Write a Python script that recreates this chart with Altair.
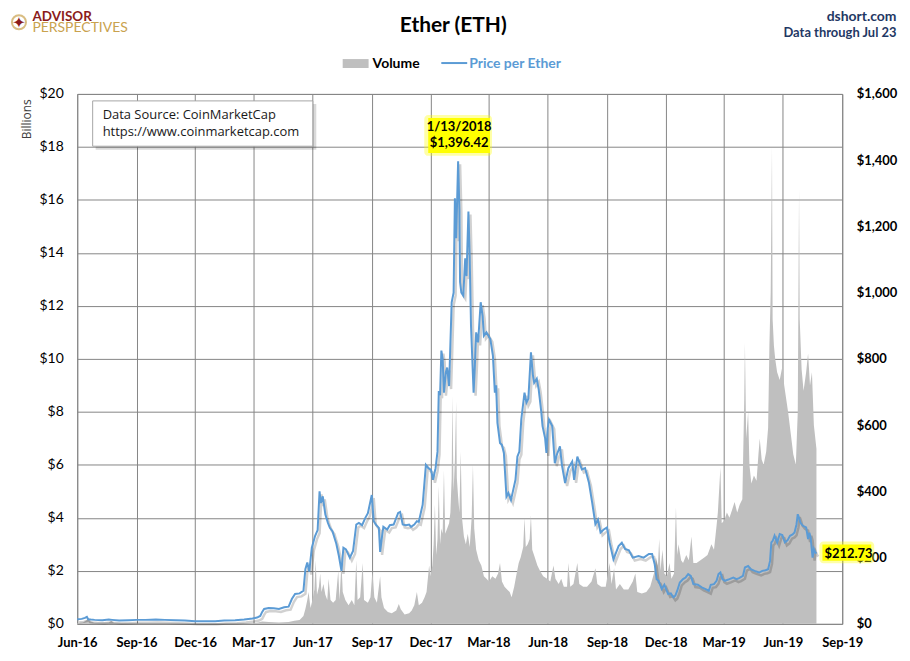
import altair as alt
import pandas as pd

# ---------------- data ----------------
price_dates = [
    "2016-06-01", "2016-06-08", "2016-06-13", "2016-06-16", "2016-06-18", "2016-06-22", "2016-06-28",
    "2016-07-10", "2016-07-20", "2016-07-25", "2016-08-05", "2016-08-20", "2016-09-01", "2016-09-15",
    "2016-10-01", "2016-10-15", "2016-11-01", "2016-11-15", "2016-12-01", "2016-12-15", "2017-01-01",
    "2017-01-15", "2017-02-01", "2017-02-15", "2017-02-28", "2017-03-07", "2017-03-12", "2017-03-15",
    "2017-03-18", "2017-03-25", "2017-04-02", "2017-04-10", "2017-04-18", "2017-04-25", "2017-04-30",
    "2017-05-05", "2017-05-12", "2017-05-18", "2017-05-21", "2017-05-24", "2017-05-27", "2017-05-31",
    "2017-06-05", "2017-06-09", "2017-06-12", "2017-06-14", "2017-06-17", "2017-06-21", "2017-06-25",
    "2017-06-28", "2017-07-02", "2017-07-08", "2017-07-12", "2017-07-16", "2017-07-19", "2017-07-23",
    "2017-07-29", "2017-08-03", "2017-08-08", "2017-08-12", "2017-08-17", "2017-08-22", "2017-08-26",
    "2017-09-01", "2017-09-04", "2017-09-08", "2017-09-12", "2017-09-14", "2017-09-16", "2017-09-19",
    "2017-09-25", "2017-09-29", "2017-10-05", "2017-10-12", "2017-10-15", "2017-10-19", "2017-10-24",
    "2017-10-29", "2017-11-01", "2017-11-06", "2017-11-10", "2017-11-13", "2017-11-19", "2017-11-24",
    "2017-11-28", "2017-12-02", "2017-12-05", "2017-12-09", "2017-12-12", "2017-12-14", "2017-12-16",
    "2017-12-18", "2017-12-20", "2017-12-22", "2017-12-25", "2017-12-27", "2017-12-30", "2018-01-03",
    "2018-01-06", "2018-01-08", "2018-01-10", "2018-01-13", "2018-01-15", "2018-01-16", "2018-01-18",
    "2018-01-21", "2018-01-24", "2018-01-26", "2018-01-29", "2018-01-31", "2018-02-02", "2018-02-06",
    "2018-02-08", "2018-02-10", "2018-02-13", "2018-02-17", "2018-02-20", "2018-02-22", "2018-02-26",
    "2018-03-01", "2018-03-04", "2018-03-08", "2018-03-11", "2018-03-13", "2018-03-15", "2018-03-19",
    "2018-03-22", "2018-03-25", "2018-03-29", "2018-04-01", "2018-04-05", "2018-04-08", "2018-04-12",
    "2018-04-15", "2018-04-18", "2018-04-21", "2018-04-26", "2018-04-29", "2018-05-02", "2018-05-06",
    "2018-05-09", "2018-05-11", "2018-05-15", "2018-05-18", "2018-05-22", "2018-05-24", "2018-05-28",
    "2018-05-30", "2018-06-01", "2018-06-03", "2018-06-08", "2018-06-12", "2018-06-15", "2018-06-20",
    "2018-06-23", "2018-06-28", "2018-07-03", "2018-07-09", "2018-07-12", "2018-07-17", "2018-07-24",
    "2018-07-29", "2018-08-04", "2018-08-09", "2018-08-14", "2018-08-18", "2018-08-22", "2018-08-27",
    "2018-09-01", "2018-09-05", "2018-09-11", "2018-09-14", "2018-09-19", "2018-09-24", "2018-09-29",
    "2018-10-05", "2018-10-11", "2018-10-20", "2018-10-28", "2018-11-05", "2018-11-10", "2018-11-14",
    "2018-11-17", "2018-11-20", "2018-11-25", "2018-11-29", "2018-12-05", "2018-12-09", "2018-12-13",
    "2018-12-16", "2018-12-19", "2018-12-23", "2018-12-28", "2019-01-01", "2019-01-05", "2019-01-09",
    "2019-01-13", "2019-01-20", "2019-01-26", "2019-02-01", "2019-02-06", "2019-02-09", "2019-02-14",
    "2019-02-18", "2019-02-21", "2019-02-24", "2019-02-27", "2019-03-03", "2019-03-10", "2019-03-16",
    "2019-03-21", "2019-03-25", "2019-03-31", "2019-04-03", "2019-04-08", "2019-04-12", "2019-04-18",
    "2019-04-25", "2019-04-30", "2019-05-05", "2019-05-09", "2019-05-12", "2019-05-14", "2019-05-16",
    "2019-05-19", "2019-05-23", "2019-05-27", "2019-05-31", "2019-06-04", "2019-06-08", "2019-06-12",
    "2019-06-16", "2019-06-19", "2019-06-22", "2019-06-24", "2019-06-26", "2019-06-28", "2019-07-02",
    "2019-07-07", "2019-07-10", "2019-07-12", "2019-07-14", "2019-07-17", "2019-07-19", "2019-07-21",
    "2019-07-23",
]
price_values = [
    14, 15, 18, 21, 14, 13, 12,
    11, 13, 12, 10, 11, 12, 12,
    13, 12, 11, 10, 8, 8, 8,
    10, 11, 13, 16, 19, 24, 36,
    45, 48, 47, 45, 50, 52, 75,
    90, 92, 100, 165, 185, 158, 230,
    265, 283, 400, 365, 385, 330, 305,
    290, 280, 242, 205, 160, 230, 225,
    200, 220, 300, 305, 298, 320, 334,
    389, 310, 298, 290, 217, 250, 293,
    285, 298, 300, 335, 338, 300, 298,
    300, 293, 300, 310, 308, 360, 480,
    470, 465, 435, 470, 520, 703, 690,
    825, 800, 698, 760, 774, 718, 971,
    1000, 1285, 1164, 1396.42, 1250, 1032, 1000,
    991, 1104, 1050, 1245, 1104, 900, 698,
    780, 880, 850, 971, 930, 870, 880,
    870, 860, 809, 698, 720, 607, 546,
    540, 516, 384, 395, 374, 400, 435,
    505, 520, 617, 698, 668, 680, 820,
    752, 728, 740, 708, 640, 597, 560,
    516, 590, 617, 597, 485, 510, 536,
    480, 425, 470, 490, 435, 505, 466,
    470, 426, 366, 301, 315, 276, 285,
    291, 246, 195, 210, 235, 245, 226,
    222, 200, 205, 200, 211, 211, 180,
    135, 130, 105, 118, 90, 92, 80,
    85, 100, 125, 135, 140, 150, 145,
    120, 118, 110, 105, 100, 118, 120,
    130, 150, 155, 135, 130, 135, 140,
    135, 138, 145, 170, 175, 165, 160,
    155, 160, 162, 165, 190, 246, 250,
    266, 245, 271, 268, 246, 252, 266,
    270, 276, 300, 331, 320, 306, 296,
    291, 256, 275, 260, 200, 226, 216,
    212.73,
]

volume_dates = [
    "2016-06-01", "2016-06-10", "2016-06-16", "2016-06-18", "2016-06-21", "2016-06-28", "2016-07-20",
    "2016-07-24", "2016-07-28", "2016-08-20", "2016-09-15", "2016-10-20", "2016-11-20", "2016-12-20",
    "2017-01-20", "2017-02-20", "2017-03-05", "2017-03-15", "2017-03-25", "2017-04-10", "2017-04-25",
    "2017-05-04", "2017-05-12", "2017-05-18", "2017-05-21", "2017-05-24", "2017-05-26", "2017-05-29",
    "2017-06-01", "2017-06-04", "2017-06-06", "2017-06-08", "2017-06-11", "2017-06-13", "2017-06-15",
    "2017-06-18", "2017-06-21", "2017-06-24", "2017-06-26", "2017-06-29", "2017-07-03", "2017-07-07",
    "2017-07-11", "2017-07-13", "2017-07-16", "2017-07-18", "2017-07-22", "2017-07-27", "2017-08-01",
    "2017-08-05", "2017-08-08", "2017-08-10", "2017-08-14", "2017-08-18", "2017-08-20", "2017-08-26",
    "2017-08-30", "2017-09-02", "2017-09-05", "2017-09-09", "2017-09-14", "2017-09-16", "2017-09-20",
    "2017-09-26", "2017-10-02", "2017-10-09", "2017-10-13", "2017-10-16", "2017-10-22", "2017-10-29",
    "2017-11-02", "2017-11-06", "2017-11-10", "2017-11-13", "2017-11-18", "2017-11-22", "2017-11-25",
    "2017-11-29", "2017-12-01", "2017-12-04", "2017-12-06", "2017-12-08", "2017-12-10", "2017-12-12",
    "2017-12-14", "2017-12-16", "2017-12-18", "2017-12-20", "2017-12-22", "2017-12-24", "2017-12-27",
    "2017-12-30", "2018-01-01", "2018-01-03", "2018-01-04", "2018-01-06", "2018-01-08", "2018-01-10",
    "2018-01-11", "2018-01-13", "2018-01-15", "2018-01-17", "2018-01-19", "2018-01-22", "2018-01-25",
    "2018-01-28", "2018-01-31", "2018-02-03", "2018-02-05", "2018-02-07", "2018-02-10", "2018-02-14",
    "2018-02-18", "2018-02-22", "2018-02-26", "2018-03-02", "2018-03-07", "2018-03-12", "2018-03-16",
    "2018-03-19", "2018-03-22", "2018-03-26", "2018-03-30", "2018-04-03", "2018-04-06", "2018-04-10",
    "2018-04-13", "2018-04-17", "2018-04-20", "2018-04-24", "2018-04-26", "2018-04-28", "2018-05-01",
    "2018-05-04", "2018-05-06", "2018-05-08", "2018-05-12", "2018-05-16", "2018-05-20", "2018-05-25",
    "2018-05-31", "2018-06-05", "2018-06-10", "2018-06-13", "2018-06-18", "2018-06-22", "2018-06-26",
    "2018-07-01", "2018-07-03", "2018-07-06", "2018-07-11", "2018-07-17", "2018-07-20", "2018-07-26",
    "2018-08-01", "2018-08-08", "2018-08-14", "2018-08-17", "2018-08-23", "2018-08-30", "2018-09-05",
    "2018-09-08", "2018-09-12", "2018-09-15", "2018-09-21", "2018-09-27", "2018-10-04", "2018-10-11",
    "2018-10-15", "2018-10-18", "2018-10-25", "2018-11-01", "2018-11-07", "2018-11-14", "2018-11-16",
    "2018-11-19", "2018-11-21", "2018-11-23", "2018-11-26", "2018-11-29", "2018-12-03", "2018-12-07",
    "2018-12-10", "2018-12-14", "2018-12-17", "2018-12-19", "2018-12-21", "2018-12-25", "2018-12-28",
    "2019-01-02", "2019-01-06", "2019-01-10", "2019-01-13", "2019-01-18", "2019-01-24", "2019-01-30",
    "2019-02-04", "2019-02-10", "2019-02-14", "2019-02-18", "2019-02-20", "2019-02-24", "2019-02-26",
    "2019-03-02", "2019-03-06", "2019-03-10", "2019-03-14", "2019-03-18", "2019-03-22", "2019-03-26",
    "2019-03-30", "2019-04-02", "2019-04-03", "2019-04-05", "2019-04-08", "2019-04-10", "2019-04-13",
    "2019-04-17", "2019-04-21", "2019-04-24", "2019-04-26", "2019-04-29", "2019-05-02", "2019-05-06",
    "2019-05-09", "2019-05-11", "2019-05-13", "2019-05-15", "2019-05-16", "2019-05-18", "2019-05-20",
    "2019-05-23", "2019-05-27", "2019-05-31", "2019-06-03", "2019-06-06", "2019-06-09", "2019-06-13",
    "2019-06-17", "2019-06-21", "2019-06-24", "2019-06-26", "2019-06-27", "2019-06-30", "2019-07-03",
    "2019-07-07", "2019-07-10", "2019-07-13", "2019-07-16", "2019-07-19", "2019-07-23",
]
volume_values = [
    0.03, 0.05, 0.15, 0.22, 0.10, 0.04, 0.05,
    0.12, 0.04, 0.03, 0.02, 0.02, 0.01, 0.01,
    0.02, 0.02, 0.03, 0.09, 0.07, 0.05, 0.07,
    0.12, 0.15, 0.30, 0.56, 0.90, 1.20, 0.60,
    0.90, 1.30, 2.40, 1.10, 1.40, 1.90, 1.20,
    1.50, 1.10, 0.90, 1.70, 0.90, 0.80, 0.90,
    2.00, 0.90, 2.30, 1.20, 0.90, 0.70, 0.90,
    0.70, 2.40, 0.90, 1.00, 2.30, 0.90, 0.80,
    1.00, 2.00, 1.00, 0.80, 1.80, 1.00, 0.60,
    0.45, 0.40, 0.50, 0.75, 0.55, 0.35, 0.40,
    0.50, 0.70, 1.20, 0.70, 0.80, 1.00, 1.20,
    2.20, 1.80, 2.20, 3.00, 4.50, 2.60, 3.20,
    5.20, 3.00, 3.60, 3.40, 5.80, 3.40, 3.60,
    3.80, 4.20, 5.50, 8.60, 5.00, 6.20, 8.40,
    5.50, 4.80, 4.20, 6.50, 4.00, 3.30, 3.00,
    3.40, 2.90, 4.00, 6.00, 3.60, 2.80, 2.40,
    2.20, 1.80, 1.70, 1.60, 1.80, 1.70, 1.90,
    2.30, 1.60, 1.40, 1.30, 1.20, 1.00, 1.40,
    1.80, 2.30, 2.50, 2.90, 4.00, 2.90, 3.00,
    3.20, 4.10, 2.80, 2.50, 2.20, 2.00, 1.80,
    1.70, 1.60, 2.20, 1.70, 1.50, 1.70, 1.40,
    1.40, 2.30, 1.40, 1.50, 2.30, 1.50, 1.40,
    1.40, 1.60, 2.10, 1.50, 1.40, 1.40, 2.30,
    1.50, 2.10, 1.30, 1.50, 1.30, 1.30, 1.60,
    1.90, 1.20, 1.15, 1.20, 1.40, 2.00, 2.50,
    2.20, 3.20, 2.00, 2.80, 1.90, 1.80, 2.30,
    1.70, 1.90, 4.40, 2.60, 3.00, 2.40, 2.30,
    2.60, 2.40, 3.30, 2.30, 2.30, 2.40, 2.50,
    2.60, 3.00, 2.80, 3.70, 4.20, 5.90, 3.80,
    3.90, 4.20, 4.00, 4.30, 4.60, 4.20, 4.50,
    4.70, 8.50, 10.60, 7.00, 8.00, 6.00, 5.30,
    5.60, 5.40, 6.40, 7.00, 6.20, 6.00, 6.50,
    7.40, 10.50, 12.50, 18.00, 11.50, 10.50, 10.00,
    9.50, 9.20, 9.70, 9.00, 8.50, 8.00, 7.20,
    6.40, 6.00, 8.00, 16.40, 11.50, 9.60, 8.80,
    9.50, 10.20, 9.00, 9.50, 7.50, 6.60,
]

quarter_ticks = [(2016, 6), (2016, 9), (2016, 12), (2017, 3), (2017, 6), (2017, 9), (2017, 12),
                 (2018, 3), (2018, 6), (2018, 9), (2018, 12), (2019, 3), (2019, 6), (2019, 9)]
volume_ticks = [0, 2, 4, 6, 8, 10, 12, 14, 16, 18, 20]
price_ticks = [0, 200, 400, 600, 800, 1000, 1200, 1400, 1600]

# ---------------- frames ----------------
price_df = pd.DataFrame({"date": pd.to_datetime(price_dates), "price": price_values})
vol_df = pd.DataFrame({"date": pd.to_datetime(volume_dates), "volume": volume_values})

peak = price_df.loc[price_df["price"].idxmax()]
last = price_df.iloc[-1]
peak_df = pd.DataFrame({
    "date": [peak["date"]], "price": [peak["price"]],
    "l1": [f"{peak['date'].month}/{peak['date'].day}/{peak['date'].year}"],
    "l2": [f"${peak['price']:,.2f}"],
})
last_df = pd.DataFrame({"date": [last["date"]], "price": [last["price"]],
                        "l": [f"${last['price']:,.2f}"]})

GRID = "#868686"
BLUE = "#5B9BD5"
FONT = "Lato"

x_enc = alt.X(
    "date:T",
    scale=alt.Scale(domain=[alt.DateTime(year=2016, month=6, date=1),
                            alt.DateTime(year=2019, month=9, date=1)]),
    axis=alt.Axis(values=[alt.DateTime(year=y, month=m, date=1) for y, m in quarter_ticks],
                  format="%b-%y", labelFont=FONT, labelFontSize=13, labelFontWeight="bold",
                  labelColor="#000000", ticks=False, domain=False, grid=True, gridColor=GRID,
                  gridWidth=1, labelPadding=13, labelOverlap=False, labelFlush=False, title=None),
)
x2_enc = alt.X2("date:T")

vol_y = alt.Y(
    "volume:Q",
    scale=alt.Scale(domain=[0, 20], nice=False),
    axis=alt.Axis(orient="left", values=volume_ticks, labelExpr="'$' + datum.value",
                  labelFont=FONT, labelFontSize=14, labelColor="#000000", labelPadding=14,
                  ticks=False, domain=False, grid=True, gridColor=GRID, gridWidth=1,
                  title="Billions", titleFont="Open Sans", titleFontSize=12,
                  titleFontWeight="normal", titleColor="#404040", titleAngle=270,
                  titleX=-51, titleY=25, titleAlign="center", titleBaseline="middle"),
)
price_y = alt.Y(
    "price:Q",
    scale=alt.Scale(domain=[0, 1600], nice=False),
    axis=alt.Axis(orient="right", values=price_ticks, format="$,.0f", labelFont=FONT,
                  labelFontSize=13, labelFontWeight="bold", labelColor="#000000",
                  labelPadding=14, ticks=False, domain=False, grid=False, title=None),
)

volume_area = alt.Chart(vol_df).mark_area(color="#BFBFBF", interpolate="linear").encode(
    x=x_enc, y=vol_y)

shadow = alt.Chart(price_df).mark_line(color="#000000", opacity=0.18, strokeWidth=2.5,
                                       xOffset=2, yOffset=3).encode(x=x_enc, y=price_y)
line = alt.Chart(price_df).mark_line(color=BLUE, strokeWidth=2).encode(x=x_enc, y=price_y)

peak_glow = alt.Chart(peak_df).mark_rect(color="#FFFF00", opacity=0.35, xOffset=-34,
                                         x2Offset=34, yOffset=-46.5, y2Offset=-5.5,
                                         cornerRadius=4).encode(
    x=x_enc, x2=x2_enc, y=price_y, y2=alt.Y2("price:Q"))
peak_box = alt.Chart(peak_df).mark_rect(color="#FFFF00", xOffset=-30, x2Offset=32,
                                        yOffset=-43.5, y2Offset=-8.5).encode(
    x=x_enc, x2=x2_enc, y=price_y, y2=alt.Y2("price:Q"))
peak_t1 = alt.Chart(peak_df).mark_text(font=FONT, fontSize=13, fontWeight="bold",
                                       color="#000000", dx=1, dy=-30, baseline="alphabetic",
                                       align="center").encode(x=x_enc, y=price_y, text="l1:N")
peak_t2 = alt.Chart(peak_df).mark_text(font=FONT, fontSize=13, fontWeight="bold",
                                       color="#000000", dx=1, dy=-14, baseline="alphabetic",
                                       align="center").encode(x=x_enc, y=price_y, text="l2:N")

last_glow = alt.Chart(last_df).mark_rect(color="#FFFF00", opacity=0.35, xOffset=3,
                                         x2Offset=58, yOffset=-12, y2Offset=10,
                                         cornerRadius=4).encode(
    x=x_enc, x2=x2_enc, y=price_y, y2=alt.Y2("price:Q"))
last_box = alt.Chart(last_df).mark_rect(color="#FFFF00", xOffset=6, x2Offset=55,
                                        yOffset=-9, y2Offset=7.5).encode(
    x=x_enc, x2=x2_enc, y=price_y, y2=alt.Y2("price:Q"))
last_t = alt.Chart(last_df).mark_text(font=FONT, fontSize=13, fontWeight="bold",
                                      color="#000000", dx=8, dy=4.5, align="left",
                                      baseline="alphabetic").encode(x=x_enc, y=price_y, text="l:N")

price_layer = alt.layer(shadow, line, peak_glow, peak_box, peak_t1, peak_t2,
                        last_glow, last_box, last_t)

# ---------------- decorations (titles, legend, source box, logo) ----------------
one = pd.DataFrame({"k": [0]})
base = alt.Chart(one)


def txt(s, x, y, size, weight="normal", color="#000000", align="left", font=FONT):
    return base.mark_text(font=font, fontSize=size, fontWeight=weight, color=color,
                          align=align, baseline="alphabetic").encode(
        x=alt.value(x), y=alt.value(y), text=alt.value(s))


title = txt("Ether (ETH)", 377.5, -62, 21, "bold", "#000000", "center")
site = txt("dshort.com", 822.5, -73, 14, "bold", "#1F3864", "right")
through = txt("Data through Jul 23", 822.5, -57, 13, "bold", "#1F3864", "right")

logo_ring = base.mark_point(shape="circle", filled=False, size=200, color="#C9A24E",
                            strokeWidth=2).encode(x=alt.value(-58.5), y=alt.value(-72))
logo_star = txt("✦", -58.5, -66, 16, "normal", "#8B1B1B", "center", "DejaVu Sans")
logo_a = txt("ADVISOR", -45, -73, 13.5, "bold", "#8B1B1B")
logo_p = txt("PERSPECTIVES", -45, -62, 14, "normal", "#C9A24E")

leg_swatch = base.mark_rect(color="#BFBFBF").encode(
    x=alt.value(266.5), x2=alt.value(292.5), y=alt.value(-35), y2=alt.value(-26))
leg_vol = txt("Volume", 296.5, -26, 14, "bold", "#000000")
leg_line = base.mark_rule(color=BLUE, strokeWidth=2).encode(
    x=alt.value(365.5), x2=alt.value(391.5), y=alt.value(-31))
leg_price = txt("Price per Ether", 393.5, -26, 14, "bold", BLUE)

src_shadow = base.mark_rect(color="#000000", opacity=0.15).encode(
    x=alt.value(18.5), x2=alt.value(240), y=alt.value(10), y2=alt.value(56))
src_box = base.mark_rect(fill="#FFFFFF", stroke="#A6A6A6", strokeWidth=1).encode(
    x=alt.value(15.5), x2=alt.value(236.5), y=alt.value(7), y2=alt.value(52.5))
src_t1 = txt("Data Source: CoinMarketCap", 25.5, 25, 13, "normal", "#1A1A1A", "left", "Open Sans")
src_t2 = txt("https://www.coinmarketcap.com", 25.5, 42, 13, "normal", "#1A1A1A", "left", "Open Sans")

decor = alt.layer(title, site, through, logo_ring, logo_star, logo_a, logo_p,
                  leg_swatch, leg_vol, leg_line, leg_price,
                  src_shadow, src_box, src_t1, src_t2)

chart = alt.layer(volume_area, price_layer, decor).resolve_scale(
    y="independent"
).properties(
    width=768, height=532,
    autosize=alt.AutoSizeParams(type="none"),
    padding={"left": 69.5, "top": 85, "right": 60, "bottom": 28},
    background="#FFFFFF",
).configure_view(stroke=GRID, strokeWidth=1)

chart.save("out.html", embed_options={"renderer": "svg", "actions": False})
